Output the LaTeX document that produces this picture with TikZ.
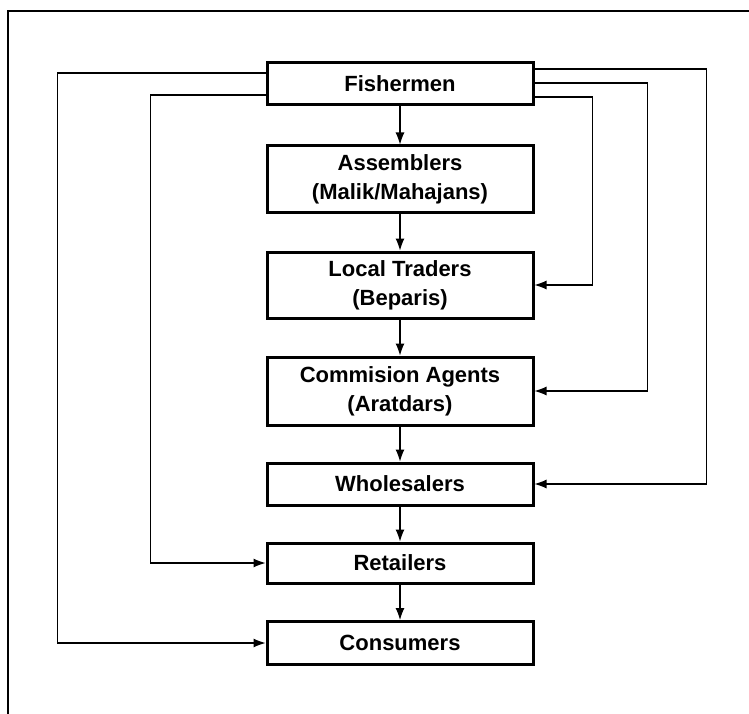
\documentclass[tikz,border=0pt]{standalone}
\usepackage{fontspec}
\setmainfont{Liberation Sans}
\usepackage{tikz}
\usetikzlibrary{arrows.meta,calc}
\tikzstyle{tsBold} = [ 
    text=black, 
    font=\bfseries\fontsize{22}{29}\selectfont
]
\tikzstyle{tsBox} = [ 
    rectangle,
    tsBold,
    align=center,
    draw=black,
    line width=3pt,
    minimum width=266pt,
    inner sep=0pt]
\tikzstyle{tsFlow} = [ 
    line width=1.1pt,
    -{Latex[length=12pt,width=9pt]}]

\begin{document}
\begin{tikzpicture}[x=1pt, y=-1pt]
        
        \useasboundingbox (0,0) rectangle (749,714);
        
        % frame (only top and left edge show)
        \draw[line width=1.3pt] (8,714) -- (8,11) -- (749,11);
        
        \node[tsBox, minimum height=42pt] (fish) at (400,84) {Fishermen};
        \node[tsBox, minimum height=66pt] (asm) at (400,179) {Assemblers\\(Malik/Mahajans)};
        \node[tsBox, minimum height=66pt] (trad) at (400,285) {Local Traders\\(Beparis)};
        \node[tsBox, minimum height=68pt] (agent) at (400,391) {Commision Agents\\(Aratdars)};
        \node[tsBox, minimum height=42pt] (whole) at (400,484) {Wholesalers};
        \node[tsBox, minimum height=40pt] (retail) at (400,563) {Retailers};
        \node[tsBox, minimum height=43pt] (cons) at (400,643) {Consumers};
        
        % down the chain
        \draw[tsFlow] (fish.south) -- (asm.north);
        \draw[tsFlow] (asm.south) -- (trad.north);
        \draw[tsFlow] (trad.south) -- (agent.north);
        \draw[tsFlow] (agent.south) -- (whole.north);
        \draw[tsFlow] (whole.south) -- (retail.north);
        \draw[tsFlow] (retail.south) -- (cons.north);
        
        % by-passes on the left
        \draw[tsFlow] (fish.west) ++(0,-11) -- ++(-208,0) |- (cons.west);
        \draw[tsFlow] (fish.west) ++(0,11) -- ++(-115,0) |- (retail.west);
        
        % by-passes on the right
        \draw[tsFlow] (fish.east) ++(0,13) -- ++(58,0) |- (trad.east);
        \draw[tsFlow] (fish.east) ++(0,-1) -- ++(113,0) |- (agent.east);
        \draw[tsFlow] (fish.east) ++(0,-15) -- ++(172,0) |- (whole.east);
        
\end{tikzpicture}
\end{document}
